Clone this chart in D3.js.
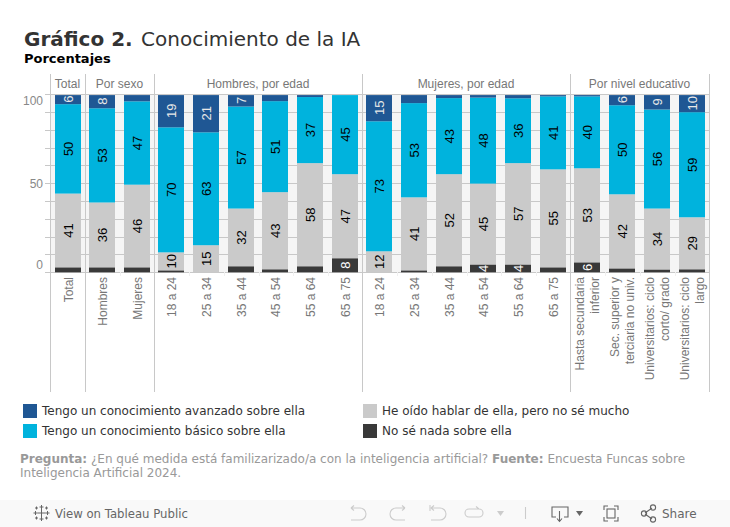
<!DOCTYPE html>
<html><head><meta charset="utf-8">
<script src="https://cdn.jsdelivr.net/npm/d3@7"></script>
<style>
html,body{margin:0;padding:0;background:#fff;overflow:hidden}
svg{display:block}
text{font-family:"Liberation Sans",Arial,sans-serif}
text.dj,.dj text{font-family:"DejaVu Sans",sans-serif}
</style></head><body>
<div id="c"></div>
<script>
const groups = ["Total","Por sexo","Hombres, por edad","Mujeres, por edad","Por nivel educativo"];
const groupOf = [0,1,1,2,2,2,2,2,2,3,3,3,3,3,3,4,4,4,4];
const categories = ["Total","Hombres","Mujeres","18 a 24","25 a 34","35 a 44","45 a 54","55 a 64","65 a 75","18 a 24","25 a 34","35 a 44","45 a 54","55 a 64","65 a 75",
  ["Hasta secundaria","inferior"],["Sec. superior y","terciaria no univ."],["Universitarios: ciclo","corto/ grado"],["Universitarios: ciclo","largo"]];
const nada     = [2.8,2.8,2.8,1.1,0,3.4,1.7,3.4,7.9,0,1.1,3.4,4.4,4.4,2.8,5.6,2.2,1.6,1.7];
const oido     = [41.4,36.4,46.4,10.1,15.2,32.4,43.3,57.9,47.2,11.8,41,51.7,45.4,56.9,55,52.8,41.6,34.2,29.2];
const basico   = [50.2,52.9,46.8,70.2,63.4,57.3,51.1,37.1,44.6,73,52.9,42.7,48.3,36.4,41.0,40.4,50,55.6,59];
const avanzado = [5.6,7.9,4,18.6,21.4,6.9,3.9,1.6,0.3,15.2,5,2.2,1.9,2.3,1.2,1.2,6.2,8.6,10.1];
const seriesNames = ["No sé nada sobre ella","He oído hablar de ella, pero no sé mucho","Tengo un conocimiento básico sobre ella","Tengo un conocimiento avanzado sobre ella"];
const seriesValues = [nada,oido,basico,avanzado];
const seriesColors = ["#393939","#cacaca","#00b3dd","#1f5794"];
const labelColors = ["#fff","#000","#000","#e8e8e8"];
const labelMin = [4,4,4,5.5];
const yTicks = [0,50,100];
const yGrid = d3.range(0,101,10);
const legendOrder = [[3,1],[2,0]];

const W=730,H=527;
const svg=d3.select("#c").append("svg").attr("width",W).attr("height",H);

// Title
const t=svg.append("text").attr("class","dj").attr("x",24).attr("y",46).attr("font-size",20).attr("fill","#333");
t.append("tspan").attr("font-weight","bold").text("Gráfico 2.");
t.append("tspan").attr("dx",2).text(" Conocimiento de la IA");
svg.append("text").attr("class","dj").attr("x",24).attr("y",63).attr("font-size",13).attr("font-weight","bold").attr("fill","#000").text("Porcentajes");

// Panels
const edges=[50.5,85.5,154.5,362.5,570.5,709.5];
const y=d3.scaleLinear().domain([0,100]).range([272.3,94.2]);
const panelTop=74, panelBottom=392;
const g=svg.append("g");
g.append("rect").attr("x",edges[0]).attr("y",y(100)).attr("width",edges[5]-edges[0]).attr("height",y(0)-y(100)).attr("fill","#f5f5f5");
g.selectAll("line.grid").data(yGrid).join("line").attr("class","grid")
 .attr("x1",45).attr("x2",edges[5]).attr("y1",d=>Math.round(y(d))+.5).attr("y2",d=>Math.round(y(d))+.5)
 .attr("stroke","#c8c8c8").attr("stroke-width",1);

// y axis
const yAxis=d3.axisLeft(y).tickValues(yTicks).tickSize(0).tickPadding(0);
const ya=svg.append("g").attr("transform","translate(43,0)").call(yAxis);
ya.select(".domain").remove();
ya.selectAll("text").attr("font-size",12).attr("fill","#888").attr("font-family",'"Liberation Sans",Arial,sans-serif')
  .attr("dy",d=>d===100?"0.87em":d===0?"-0.33em":"0.35em");

const bandOf=[];
groups.forEach((gr,i)=>{
  const idx=groupOf.map((v,k)=>v===i?k:-1).filter(k=>k>=0);
  const sc=d3.scaleBand().domain(idx).range([edges[i],edges[i+1]]).paddingInner(0).paddingOuter(0);
  idx.forEach(k=>bandOf[k]={sc,k});
  svg.append("text").attr("x",(edges[i]+edges[i+1])/2-0.5).attr("y",88).attr("text-anchor","middle").attr("font-size",12).attr("fill","#777").text(gr);
});
const barW=26;
const bx=k=>Math.floor(bandOf[k].sc(k)+bandOf[k].sc.bandwidth()/2-barW/2)+barW/2;

// Stacks
const rows=categories.map((c,k)=>({k,s0:nada[k],s1:oido[k],s2:basico[k],s3:avanzado[k]}));
const stack=d3.stack().keys(["s0","s1","s2","s3"])(rows);
const barTop=y(99.5);
stack.forEach((layer,si)=>{
  const lg=svg.append("g");
  lg.selectAll("rect").data(layer).join("rect")
    .attr("x",d=>bx(d.data.k)-barW/2).attr("width",barW)
    .attr("y",d=>Math.max(y(d[1]),barTop)).attr("height",d=>Math.max(0,y(d[0])-Math.max(y(d[1]),barTop)))
    .attr("fill",seriesColors[si]);
  lg.selectAll("text").data(layer.filter(d=>d[1]-d[0]>=labelMin[si])).join("text")
    .attr("transform",d=>`translate(${bx(d.data.k)+4.6},${(y(d[0])+y(d[1]))/2}) rotate(-90)`)
    .attr("text-anchor","middle").attr("font-size",13).attr("fill",labelColors[si])
    .text(d=>Math.round(seriesValues[si][d.data.k]));
});

// Vertical separators, on top of the grid
svg.selectAll("line.sep").data(edges).join("line").attr("class","sep")
 .attr("x1",d=>d).attr("x2",d=>d).attr("y1",panelTop).attr("y2",panelBottom).attr("stroke","#c8c8c8");
// small ticks between categories
categories.forEach((c,k)=>{
  if(k===0||groupOf[k]!==groupOf[k-1])return;
  const xx=Math.round(bandOf[k].sc(k))+.5;
  svg.append("line").attr("x1",xx).attr("x2",xx).attr("y1",272).attr("y2",276).attr("stroke","#f0f0f0");
});

// Category labels
categories.forEach((c,k)=>{
  const lines=Array.isArray(c)?c:[c];
  const lh=14.5;
  const tx=svg.append("text").attr("transform",`translate(${bx(k)+4.6-(lines.length-1)*lh/2},277) rotate(-90)`)
    .attr("font-size",12).attr("fill","#777").attr("text-anchor","end");
  lines.forEach((l,i)=>tx.append("tspan").text(l).attr("x",0).attr("dy",i?lh:0));
});

// Legend
const lx=[23,363], ly=[404,424];
legendOrder.forEach((row,r)=>row.forEach((si,c)=>{
  svg.append("rect").attr("x",lx[c]).attr("y",ly[r]).attr("width",14).attr("height",14).attr("fill",seriesColors[si]);
  svg.append("text").attr("class","dj").attr("x",lx[c]+19).attr("y",ly[r]+11).attr("font-size",12).attr("fill","#333").text(seriesNames[si]);
}));

// Note
const n1=svg.append("text").attr("class","dj").attr("x",20).attr("y",463).attr("font-size",12).attr("fill","#999");
n1.append("tspan").attr("font-weight","bold").text("Pregunta:");
n1.append("tspan").text(" ¿En qué medida está familizarizado/a con la inteligencia artificial? ");
n1.append("tspan").attr("font-weight","bold").text("Fuente:");
n1.append("tspan").text(" Encuesta Funcas sobre");
svg.append("text").attr("class","dj").attr("x",20).attr("y",477).attr("font-size",12).attr("fill","#999").text("Inteligencia Artificial 2024.");

// Toolbar
svg.append("rect").attr("x",0).attr("y",500).attr("width",W).attr("height",27).attr("fill","#f9f9f9");
svg.append("text").attr("class","dj").attr("x",55).attr("y",518).attr("font-size",11.7).attr("fill","#666").text("View on Tableau Public");
svg.append("text").attr("class","dj").attr("x",662).attr("y",518).attr("font-size",12).attr("fill","#666").text("Share");
const ic=svg.append("g").attr("fill","none").attr("stroke","#ccc").attr("stroke-width",1.1);
ic.append("path").attr("d","M351 508h9a5 5 0 0 1 0 12h-9M351 508l3-2.5M351 508l3 2.5");
ic.append("path").attr("d","M405 508h-9a5 5 0 0 0 0 12h9M405 508l-3-2.5M405 508l-3 2.5");
ic.append("path").attr("d","M431 508h9a5 5 0 0 1 0 12h-9M431 508l3-2.5M431 508l3 2.5M430 505v6");
ic.append("path").attr("d","M479 509h-10a4 4 0 0 0 0 8h10a4 4 0 0 0 0-8M479 509l-3-2.5");
ic.append("path").attr("d","M497 511h7l-3.5 5z").attr("fill","#ccc").attr("stroke","none");
ic.append("path").attr("d","M525.5 507v12");
const id=svg.append("g").attr("fill","none").attr("stroke","#666").attr("stroke-width",1.1);
id.append("path").attr("d","M556 517h-4v-10h16v10h-4M559.5 511v10M557 518.5l2.5 3 2.5-3");
id.append("path").attr("d","M576 511h7l-3.5 5z").attr("fill","#666").attr("stroke","none");
id.append("path").attr("d","M604 510v-4h4M614 506h4v4M618 517v4h-4M608 521h-4v-4");
id.append("rect").attr("x",607).attr("y",509).attr("width",8).attr("height",9);
id.append("path").attr("d","M645 513l7-5M645 514l7 5");
[[644,513.5],[653,507.5],[653,519.5]].forEach(p=>id.append("circle").attr("cx",p[0]).attr("cy",p[1]).attr("r",2.6));
const logo=svg.append("g").attr("stroke","#666").attr("stroke-width",1);
[[41.5,513,4],[35.5,513,2],[47.5,513,2],[41.5,507,2],[41.5,519,2],[36.5,508,1.5],[46.5,508,1.5],[36.5,518,1.5],[46.5,518,1.5]].forEach(p=>{
  logo.append("path").attr("d",`M${p[0]-p[2]} ${p[1]}h${2*p[2]}M${p[0]} ${p[1]-p[2]}v${2*p[2]}`);
});
</script></body></html>
